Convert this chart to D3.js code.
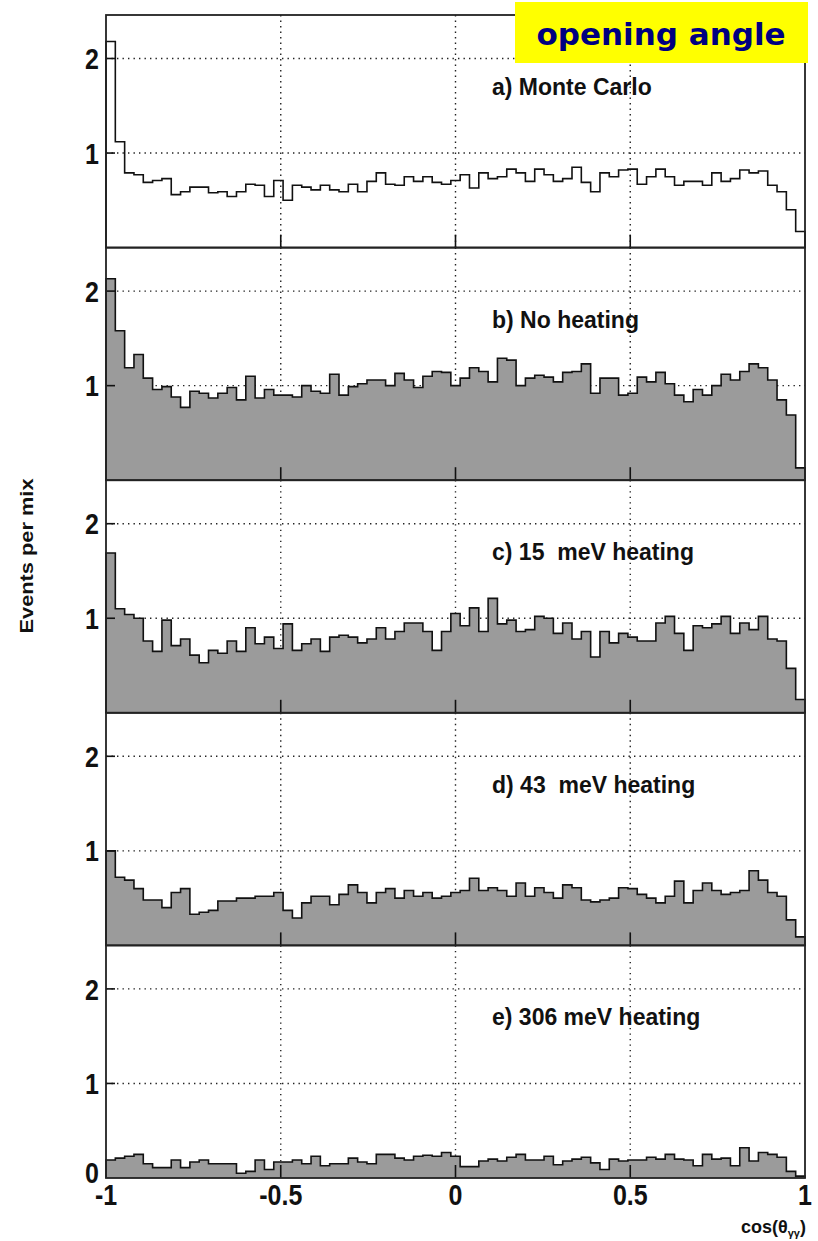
<!DOCTYPE html>
<html>
<head>
<meta charset="utf-8">
<script src="https://cdn.jsdelivr.net/npm/d3@7"></script>
<style>
  body { margin: 0; background: #fff; }
  text { font-family: 'Liberation Sans', Arial, Helvetica, sans-serif; font-weight: bold; fill: #111; }
</style>
</head>
<body>
<div id="chart"></div>
<script>
// 75 bins in cos(theta) from -1 to 1
const monteCarlo = [2.18, 1.12, 0.79, 0.77, 0.69, 0.71, 0.73, 0.56, 0.59, 0.64, 0.64, 0.58, 0.59, 0.54, 0.59, 0.67, 0.66, 0.54, 0.71, 0.50,
  0.66, 0.64, 0.61, 0.66, 0.61, 0.59, 0.67, 0.59, 0.70, 0.79, 0.67, 0.66, 0.75, 0.70, 0.75, 0.69, 0.67, 0.71,
  0.77, 0.63, 0.79, 0.73, 0.75, 0.83, 0.79, 0.70, 0.83, 0.77, 0.70, 0.73, 0.85, 0.69, 0.59, 0.79, 0.75, 0.82, 0.83, 0.67,
  0.75, 0.83, 0.75, 0.66, 0.70, 0.70, 0.66, 0.79, 0.70, 0.73, 0.82, 0.79, 0.81, 0.66, 0.59, 0.40, 0.17]
const noHeating = [2.13, 1.58, 1.19, 1.33, 1.08, 0.96, 0.99, 0.88, 0.77, 0.94, 0.92, 0.87, 0.92, 0.98, 0.85, 1.10, 0.87, 0.96, 0.90, 0.90,
  0.88, 1.00, 0.94, 0.92, 1.12, 0.90, 0.99, 1.02, 1.06, 1.06, 1.00, 1.13, 1.06, 0.98, 1.10, 1.15, 1.14, 1.00,
  1.08, 1.19, 1.15, 1.04, 1.29, 1.27, 1.00, 1.08, 1.11, 1.09, 1.04, 1.14, 1.15, 1.23, 0.92, 1.08, 1.08, 0.90, 0.92, 1.09,
  1.04, 1.14, 1.02, 0.90, 0.83, 0.96, 0.90, 1.00, 1.12, 1.06, 1.15, 1.23, 1.19, 1.06, 0.85, 0.69, 0.13]
const heating15 = [1.69, 1.10, 1.04, 1.00, 0.76, 0.65, 0.98, 0.71, 0.78, 0.61, 0.53, 0.66, 0.63, 0.76, 0.65, 0.90, 0.73, 0.80, 0.68, 0.94,
  0.66, 0.73, 0.78, 0.65, 0.80, 0.82, 0.80, 0.74, 0.78, 0.90, 0.78, 0.86, 0.95, 0.95, 0.86, 0.66, 0.86, 1.05,
  0.92, 1.11, 0.86, 1.21, 0.94, 0.98, 0.86, 0.88, 1.02, 1.00, 0.84, 0.95, 0.78, 0.86, 0.59, 0.86, 0.74, 0.84, 0.80, 0.76,
  0.76, 0.95, 1.02, 0.84, 0.66, 0.92, 0.90, 0.94, 1.02, 0.84, 0.95, 0.88, 1.02, 0.78, 0.76, 0.47, 0.14]
const heating43 = [1.00, 0.72, 0.69, 0.60, 0.48, 0.48, 0.40, 0.56, 0.60, 0.33, 0.35, 0.37, 0.47, 0.47, 0.50, 0.50, 0.52, 0.52, 0.56, 0.37,
  0.29, 0.45, 0.52, 0.52, 0.43, 0.54, 0.64, 0.56, 0.45, 0.56, 0.60, 0.50, 0.58, 0.52, 0.56, 0.50, 0.52, 0.56,
  0.58, 0.71, 0.58, 0.61, 0.58, 0.52, 0.66, 0.52, 0.61, 0.56, 0.50, 0.64, 0.61, 0.48, 0.46, 0.48, 0.50, 0.61, 0.60, 0.54,
  0.50, 0.45, 0.52, 0.68, 0.45, 0.58, 0.66, 0.58, 0.54, 0.56, 0.58, 0.79, 0.69, 0.56, 0.52, 0.27, 0.09]
const heating306 = [0.19, 0.21, 0.23, 0.25, 0.15, 0.11, 0.11, 0.19, 0.11, 0.17, 0.19, 0.15, 0.15, 0.15, 0.05, 0.07, 0.19, 0.09, 0.17, 0.17,
  0.19, 0.15, 0.23, 0.13, 0.15, 0.15, 0.21, 0.17, 0.15, 0.25, 0.25, 0.21, 0.19, 0.23, 0.24, 0.23, 0.27, 0.23,
  0.12, 0.12, 0.18, 0.20, 0.18, 0.22, 0.25, 0.19, 0.19, 0.23, 0.14, 0.18, 0.20, 0.22, 0.16, 0.09, 0.20, 0.18, 0.19, 0.19,
  0.22, 0.20, 0.25, 0.20, 0.19, 0.13, 0.25, 0.20, 0.21, 0.13, 0.32, 0.18, 0.27, 0.25, 0.22, 0.07, 0.02]

const panelLabels = ['a) Monte Carlo', 'b) No heating', 'c) 15  meV heating', 'd) 43  meV heating', 'e) 306 meV heating']
const xTicks = [-1, -0.5, 0, 0.5, 1]
const xTickLabels = ['-1', '-0.5', '0', '0.5', '1']
const yTicks = [1, 2]
const xGrid = [-0.5, 0, 0.5]

const width = 818
const height = 1241
const plotLeft = 106
const plotRight = 805
const plotTop = 15
const panelH = 232.6

const panels = [
  { label: panelLabels[0], values: monteCarlo, filled: false },
  { label: panelLabels[1], values: noHeating, filled: true },
  { label: panelLabels[2], values: heating15, filled: true },
  { label: panelLabels[3], values: heating43, filled: true },
  { label: panelLabels[4], values: heating306, filled: true }
]

const svg = d3.select('#chart')
  .append('svg')
  .attr('width', width)
  .attr('height', height)

const x = d3.scaleLinear().domain([-1, 1]).range([plotLeft, plotRight])

panels.forEach((p, k) => {
  const y0 = plotTop + k * panelH
  const y = d3.scaleLinear().domain([0, 2.46]).range([y0 + panelH, y0])
  const g = svg.append('g')

  // dotted grid
  g.selectAll('.hgrid')
    .data(yTicks)
    .enter()
    .append('line')
    .attr('x1', plotLeft).attr('x2', plotRight)
    .attr('y1', d => y(d)).attr('y2', d => y(d))
    .attr('stroke', '#222')
    .attr('stroke-width', 1.4)
    .attr('stroke-dasharray', '1.4,4.1')
  g.selectAll('.vgrid')
    .data(xGrid)
    .enter()
    .append('line')
    .attr('x1', d => x(d)).attr('x2', d => x(d))
    .attr('y1', y0).attr('y2', y0 + panelH)
    .attr('stroke', '#222')
    .attr('stroke-width', 1.4)
    .attr('stroke-dasharray', '1.4,4.1')

  // histogram
  const w = 2 / p.values.length
  const pts = [{ x: -1, v: 0 }]
    .concat(p.values.map((v, i) => ({ x: -1 + i * w, v })))
    .concat([{ x: 1, v: p.values[p.values.length - 1] }, { x: 1, v: 0 }])

  if (p.filled) {
    const area = d3.area()
      .x(d => x(d.x))
      .y0(y(0))
      .y1(d => y(d.v))
      .curve(d3.curveStepAfter)
    g.append('path')
      .attr('d', area(pts))
      .attr('fill', '#9b9b9b')
  }
  const line = d3.line()
    .x(d => x(d.x))
    .y(d => y(d.v))
    .curve(d3.curveStepAfter)
  g.append('path')
    .attr('d', line(pts))
    .attr('fill', 'none')
    .attr('stroke', '#111')
    .attr('stroke-width', 1.6)

  // ticks
  g.selectAll('.xtick')
    .data(xGrid)
    .enter()
    .append('line')
    .attr('x1', d => x(d)).attr('x2', d => x(d))
    .attr('y1', y0 + panelH).attr('y2', y0 + panelH - 13)
    .attr('stroke', '#111')
    .attr('stroke-width', 1.6)
  g.selectAll('.ytick')
    .data(yTicks)
    .enter()
    .append('line')
    .attr('x1', plotLeft).attr('x2', plotLeft + 9)
    .attr('y1', d => y(d)).attr('y2', d => y(d))
    .attr('stroke', '#111')
    .attr('stroke-width', 1.6)

  // frame
  g.append('rect')
    .attr('x', plotLeft).attr('y', y0)
    .attr('width', plotRight - plotLeft).attr('height', panelH)
    .attr('fill', 'none')
    .attr('stroke', '#222')
    .attr('stroke-width', 1.8)

  // y tick labels (glyphs look a bit stretched vertically in the original)
  const yl = k === panels.length - 1 ? [0].concat(yTicks) : yTicks
  g.selectAll('.ylab')
    .data(yl)
    .enter()
    .append('text')
    .attr('transform', d => 'translate(99,' + (y(d) - (d === 0 ? 6 : 0)) + ') scale(1,1.18)')
    .attr('dy', '0.36em')
    .attr('text-anchor', 'end')
    .style('font-size', '25px')
    .text(d => d)

  g.append('text')
    .attr('x', 492)
    .attr('y', y0 + 80)
    .style('font-size', '23px')
    .style('white-space', 'pre')
    .text(p.label)
})

// x tick labels
svg.selectAll('.xlab')
  .data(xTicks)
  .enter()
  .append('text')
  .attr('transform', d => 'translate(' + x(d) + ',1205) scale(1,1.18)')
  .attr('text-anchor', 'middle')
  .style('font-size', '25px')
  .text((d, i) => xTickLabels[i])

// axis titles
const xt = svg.append('text')
  .attr('x', 806)
  .attr('y', 1233)
  .attr('text-anchor', 'end')
  .style('font-size', '18px')
xt.append('tspan').text('cos(θ')
xt.append('tspan').attr('dy', 4).style('font-size', '11px').text('γγ')
xt.append('tspan').attr('dy', -4).text(')')

svg.append('text')
  .attr('transform', 'translate(33,556) rotate(-90)')
  .attr('text-anchor', 'middle')
  .attr('textLength', 155)
  .attr('lengthAdjust', 'spacingAndGlyphs')
  .style('font-size', '18px')
  .text('Events per mix')

// title box
svg.append('rect')
  .attr('x', 515).attr('y', 2)
  .attr('width', 293).attr('height', 61)
  .attr('fill', '#ffff00')
svg.append('text')
  .attr('x', 661)
  .attr('y', 45)
  .attr('text-anchor', 'middle')
  .style('font-family', "'DejaVu Sans', Verdana, sans-serif")
  .style('font-size', '31px')
  .style('fill', '#000080')
  .text('opening angle')
</script>
</body>
</html>
